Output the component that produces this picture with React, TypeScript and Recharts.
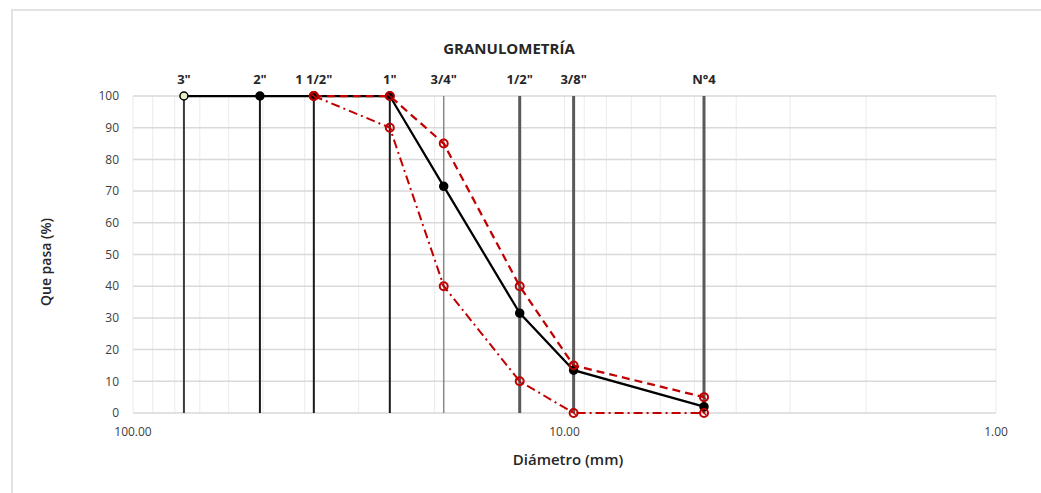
import React from 'react';
import { LineChart, Line, XAxis, YAxis, CartesianGrid, ReferenceLine } from 'recharts';

// Sieve openings (mm) and labels
const sieveLabels = ['3"', '2"', '1 1/2"', '1"', '3/4"', '1/2"', '3/8"', 'N°4'];
const sieveSizes = [76.2, 50.8, 38.1, 25.4, 19.05, 12.7, 9.525, 4.75];

// % passing
const samplePassing = [100, 100, 100, 100, 71.5, 31.5, 13.5, 2];
const upperLimit = [null, null, 100, 100, 85, 40, 15, 5];
const lowerLimit = [null, null, 100, 90, 40, 10, 0, 0];

// Axis ticks
const xGridTicks = [1, 2, 3, 4, 5, 6, 7, 8, 9, 10, 20, 30, 40, 50, 60, 70, 80, 90, 100];
const xLabelTicks = [1, 10, 100];
const yTicks = [0, 10, 20, 30, 40, 50, 60, 70, 80, 90, 100];

const sieveStyles = [
  { stroke: '#3a3a3a', width: 2 },
  { stroke: '#1a1a1a', width: 2 },
  { stroke: '#1a1a1a', width: 2 },
  { stroke: '#1a1a1a', width: 2 },
  { stroke: '#8a8a8a', width: 1.5 },
  { stroke: '#5a5a5a', width: 3 },
  { stroke: '#5a5a5a', width: 3 },
  { stroke: '#5a5a5a', width: 3 },
];

const build = (vals: (number | null)[]) =>
  sieveSizes
    .map((d, i) => ({ d, v: vals[i] }))
    .filter((p) => p.v !== null);

const sampleData = build(samplePassing);
const upperData = build(upperLimit);
const lowerData = build(lowerLimit);

const RED = '#c00000';
const FONT = '"Open Sans", "DejaVu Sans", sans-serif';

const sampleDot = (props: any) => {
  const { cx, cy, index } = props;
  if (cx == null || cy == null) return <g key={`s${index}`} />;
  return (
    <circle
      key={`s${index}`}
      cx={cx}
      cy={cy}
      r={4}
      fill={index === 0 ? '#e4efc4' : '#000'}
      stroke="#000"
      strokeWidth={1.5}
    />
  );
};

const redDot = (prefix: string) => (props: any) => {
  const { cx, cy, index } = props;
  if (cx == null || cy == null) return <g key={`${prefix}${index}`} />;
  return (
    <g key={`${prefix}${index}`}>
      <circle cx={cx} cy={cy} r={4} fill="none" stroke={RED} strokeWidth={2} />
      <line x1={cx - 2.5} y1={cy - 2.5} x2={cx + 2.5} y2={cy + 2.5} stroke={RED} strokeWidth={1.2} />
    </g>
  );
};

const fmtBottom = (v: number) => (xLabelTicks.includes(v) ? v.toFixed(2) : '');
const fmtTop = (v: number) => {
  const i = sieveSizes.indexOf(v);
  return i >= 0 ? sieveLabels[i] : '';
};

export default function App() {
  return (
    <div
      style={{
        position: 'absolute',
        left: 0,
        top: 0,
        width: 1041,
        height: 493,
        background: '#fff',
        fontFamily: FONT,
        overflow: 'hidden',
      }}
    >
      <div
        style={{
          position: 'absolute',
          left: 11,
          top: 9,
          width: 1100,
          height: 600,
          border: '2px solid #e3e3e3',
          boxSizing: 'border-box',
        }}
      />
      <div
        style={{
          position: 'absolute',
          left: 509,
          top: 48,
          transform: 'translate(-50%, -50%)',
          fontSize: 15,
          fontWeight: 700,
          color: '#262626',
          whiteSpace: 'nowrap',
        }}
      >
        GRANULOMETRÍA
      </div>
      <div
        style={{
          position: 'absolute',
          left: 45,
          top: 262,
          transform: 'translate(-50%, -50%) rotate(-90deg)',
          fontSize: 14,
          fontWeight: 600,
          color: '#262626',
          whiteSpace: 'nowrap',
        }}
      >
        Que pasa (%)
      </div>
      <div
        style={{
          position: 'absolute',
          left: 568,
          top: 459,
          transform: 'translate(-50%, -50%)',
          fontSize: 15,
          fontWeight: 600,
          color: '#262626',
          whiteSpace: 'nowrap',
        }}
      >
        Diámetro (mm)
      </div>
      <div style={{ position: 'absolute', left: 0, top: 0 }}>
        <LineChart
          width={1041}
          height={493}
          margin={{ top: 66, right: 45, bottom: 50, left: 73 }}
        >
          <CartesianGrid horizontal={false} vertical={true} stroke="#ebebeb" strokeWidth={1} />
          <CartesianGrid horizontal={true} vertical={false} stroke="#d9d9d9" strokeWidth={1.5} />
          <XAxis
            xAxisId={0}
            dataKey="d"
            type="number"
            scale="log"
            domain={[1, 100]}
            reversed
            allowDataOverflow
            ticks={xGridTicks}
            interval={0}
            tickFormatter={fmtBottom}
            axisLine={false}
            tickLine={false}
            tickSize={0}
            tickMargin={14}
            height={30}
            tick={{ fontSize: 12, fill: '#404040', fontFamily: FONT }}
          />
          <XAxis
            xAxisId="top"
            orientation="top"
            dataKey="d"
            type="number"
            scale="log"
            domain={[1, 100]}
            reversed
            allowDataOverflow
            ticks={sieveSizes}
            interval={0}
            tickFormatter={fmtTop}
            axisLine={false}
            tickLine={false}
            tickSize={0}
            tickMargin={12}
            height={30}
            tick={{ fontSize: 13, fontWeight: 700, fill: '#262626', fontFamily: FONT }}
          />
          <YAxis
            type="number"
            domain={[0, 100]}
            ticks={yTicks}
            interval={0}
            axisLine={false}
            tickLine={false}
            tickSize={0}
            tickMargin={14}
            width={60}
            tick={{ fontSize: 12, fill: '#404040', fontFamily: FONT }}
          />
          {sieveSizes.map((s, i) => (
            <ReferenceLine
              key={`r${i}`}
              x={s}
              xAxisId={0}
              stroke={sieveStyles[i].stroke}
              strokeWidth={sieveStyles[i].width}
              ifOverflow="extendDomain"
            />
          ))}
          <Line
            data={sampleData}
            dataKey="v"
            xAxisId={0}
            stroke="#000"
            strokeWidth={2.25}
            dot={sampleDot}
            activeDot={false}
            isAnimationActive={false}
          />
          <Line
            data={upperData}
            dataKey="v"
            xAxisId={0}
            stroke={RED}
            strokeWidth={2.25}
            strokeDasharray="8 5"
            dot={redDot('u')}
            activeDot={false}
            isAnimationActive={false}
          />
          <Line
            data={lowerData}
            dataKey="v"
            xAxisId={0}
            stroke={RED}
            strokeWidth={2}
            strokeDasharray="9 4 2 4"
            dot={redDot('l')}
            activeDot={false}
            isAnimationActive={false}
          />
        </LineChart>
      </div>
    </div>
  );
}
